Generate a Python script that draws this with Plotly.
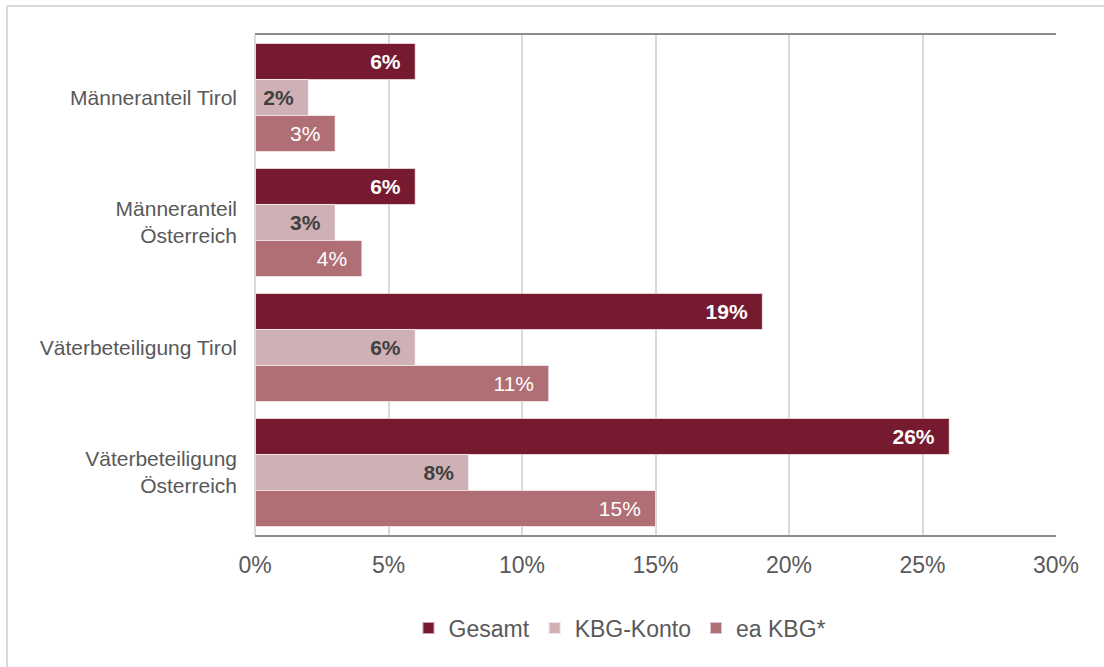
import plotly.graph_objects as go

categories = ["Männeranteil Tirol", "Männeranteil<br>Österreich", "Väterbeteiligung Tirol", "Väterbeteiligung<br>Österreich"]
gesamt = [6, 6, 19, 26]
kbg_konto = [2, 3, 6, 8]
ea_kbg = [3, 4, 11, 15]
x_ticks = [0, 5, 10, 15, 20, 25, 30]
x_tick_labels = ["0%", "5%", "10%", "15%", "20%", "25%", "30%"]

FONT = "Arial, Liberation Sans, sans-serif"
PAD = "\u00a0\u00a0"

series = [
    ("Gesamt", gesamt, "#761A30", "white", True),
    ("KBG-Konto", kbg_konto, "#CFB0B5", "#404040", True),
    ("ea KBG*", ea_kbg, "#B06E75", "white", False),
]

fig = go.Figure()
for name, vals, color, tcolor, bold in series:
    labels = [f"{v}%" for v in vals]
    tmpl = ("<b>%{text}</b>" if bold else "%{text}") + PAD
    fig.add_trace(go.Bar(
        name=name, y=categories, x=vals, orientation="h", text=labels,
        marker=dict(color=color, line=dict(color="rgba(255,255,255,0.6)", width=1)),
        texttemplate=tmpl, textposition="inside", insidetextanchor="end",
        textfont=dict(family=FONT, size=21, color=tcolor),
        hoverinfo="skip",
    ))

L, R, T, B = 255, 1056, 35, 535
W, H = 1104, 667
pw, ph = R - L, B - T

def px(xp):
    return (xp - L) / pw

def py(yp):
    return (B - yp) / ph

fig.update_layout(
    width=W, height=H,
    margin=dict(l=L, r=W - R, t=T, b=H - B),
    barmode="group", bargap=0.135, bargroupgap=0,
    paper_bgcolor="white", plot_bgcolor="white",
    font=dict(family=FONT, color="#595959"),
    xaxis=dict(range=[0, 30], tickvals=x_ticks, ticktext=x_tick_labels,
               showgrid=True, gridcolor="#D9D9D9", gridwidth=2,
               showline=True, linecolor="#8C8C8C", linewidth=2, mirror=True,
               zeroline=False, ticks="", tickfont=dict(size=23, color="#595959"),
               ticklabelstandoff=8, fixedrange=True),
    yaxis=dict(autorange="reversed", showgrid=False, showline=False,
               ticks="", tickfont=dict(size=21, color="#595959"), ticklabelstandoff=17,
               fixedrange=True),
    legend=dict(orientation="h", x=px(620), xanchor="center", y=py(628), yanchor="middle",
                font=dict(size=23, color="#595959"), traceorder="normal",
                itemwidth=30, itemsizing="constant", bgcolor="rgba(0,0,0,0)"),
    shapes=[
        dict(type="line", xref="paper", yref="paper", x0=0, x1=0, y0=0, y1=1,
             line=dict(color="#D9D9D9", width=2)),
        dict(type="line", xref="paper", yref="paper", x0=px(7), x1=px(7), y0=py(6), y1=py(700),
             line=dict(color="#D9D9D9", width=2)),
        dict(type="line", xref="paper", yref="paper", x0=px(7), x1=px(1110), y0=py(6), y1=py(6),
             line=dict(color="#D9D9D9", width=2)),
    ],
)

fig.write_html("out.html", config={"displayModeBar": False},
               post_script="document.body.style.margin='0px';")
